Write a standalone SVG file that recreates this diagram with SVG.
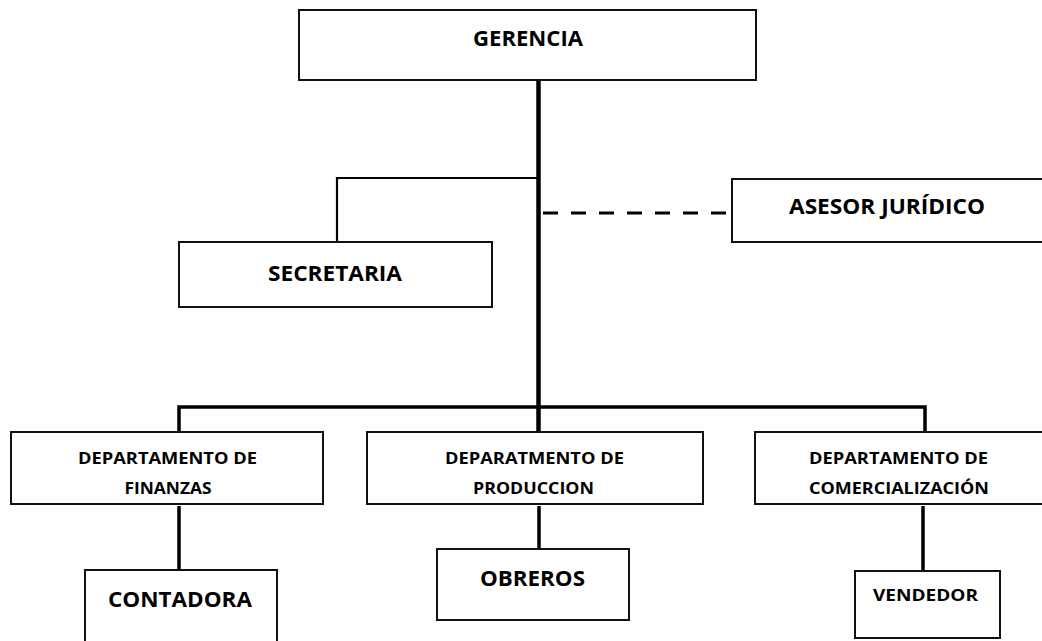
<svg xmlns="http://www.w3.org/2000/svg" width="1042" height="641" viewBox="0 0 1042 641">
<style>
.box{fill:#fff;stroke:#111;stroke-width:2}
.t{font-family:"Open Sans","Liberation Sans",Arial,sans-serif;font-weight:bold;fill:#000;text-anchor:middle}
.big{font-size:22px}
.small{font-size:16.5px}
.ln{fill:none;stroke:#000;stroke-linecap:butt}
</style>
<rect width="1042" height="641" fill="#fff"/>
<g id="connectors">
<line class="ln" x1="538.5" y1="80" x2="538.5" y2="432" stroke-width="4.5"/>
<polyline class="ln" points="537,178 337,178 337,242" stroke-width="2.2"/>
<line class="ln" x1="543" y1="213" x2="731" y2="213" stroke-width="3" stroke-dasharray="15 13"/>
<polyline class="ln" points="179,432 179,407 925,407 925,432" stroke-width="3.5"/>
<line class="ln" x1="179" y1="506" x2="179" y2="570" stroke-width="3.5"/>
<line class="ln" x1="539" y1="506" x2="539" y2="549" stroke-width="3.5"/>
<line class="ln" x1="923" y1="506" x2="923" y2="571" stroke-width="3.5"/>
</g>
<g id="gerencia"><rect class="box" x="299" y="10" width="457" height="70"/><text class="t big" x="528" y="45.5" textLength="110" lengthAdjust="spacingAndGlyphs">GERENCIA</text></g>
<g id="secretaria"><rect class="box" x="179" y="242" width="313" height="65"/><text class="t big" x="335" y="280.5" textLength="134" lengthAdjust="spacingAndGlyphs">SECRETARIA</text></g>
<g id="asesor"><rect class="box" x="732" y="179" width="320" height="63"/><text class="t big" x="887" y="213.5" textLength="196" lengthAdjust="spacingAndGlyphs">ASESOR JURÍDICO</text></g>
<g id="finanzas"><rect class="box" x="11" y="432" width="312" height="72"/><text class="t small" x="167.5" y="463.5" textLength="179" lengthAdjust="spacingAndGlyphs">DEPARTAMENTO DE</text><text class="t small" x="168" y="493.5" textLength="87" lengthAdjust="spacingAndGlyphs">FINANZAS</text></g>
<g id="produccion"><rect class="box" x="367" y="432" width="336" height="72"/><text class="t small" x="534.5" y="463.5" textLength="179" lengthAdjust="spacingAndGlyphs">DEPARATMENTO DE</text><text class="t small" x="533.5" y="493.5" textLength="121" lengthAdjust="spacingAndGlyphs">PRODUCCION</text></g>
<g id="comercializacion"><rect class="box" x="755" y="432" width="297" height="72"/><text class="t small" x="898.5" y="463.5" textLength="179" lengthAdjust="spacingAndGlyphs">DEPARTAMENTO DE</text><text class="t small" x="899" y="493.5" textLength="180" lengthAdjust="spacingAndGlyphs">COMERCIALIZACIÓN</text></g>
<g id="contadora"><rect class="box" x="85" y="570" width="192" height="90"/><text class="t big" x="180" y="606.5" textLength="144" lengthAdjust="spacingAndGlyphs">CONTADORA</text></g>
<g id="obreros"><rect class="box" x="437" y="549" width="192" height="71"/><text class="t big" x="532.5" y="585.5" textLength="105" lengthAdjust="spacingAndGlyphs">OBREROS</text></g>
<g id="vendedor"><rect class="box" x="855" y="571" width="145" height="67"/><text class="t small" x="925.5" y="600.5" textLength="105" lengthAdjust="spacingAndGlyphs">VENDEDOR</text></g>
</svg>
